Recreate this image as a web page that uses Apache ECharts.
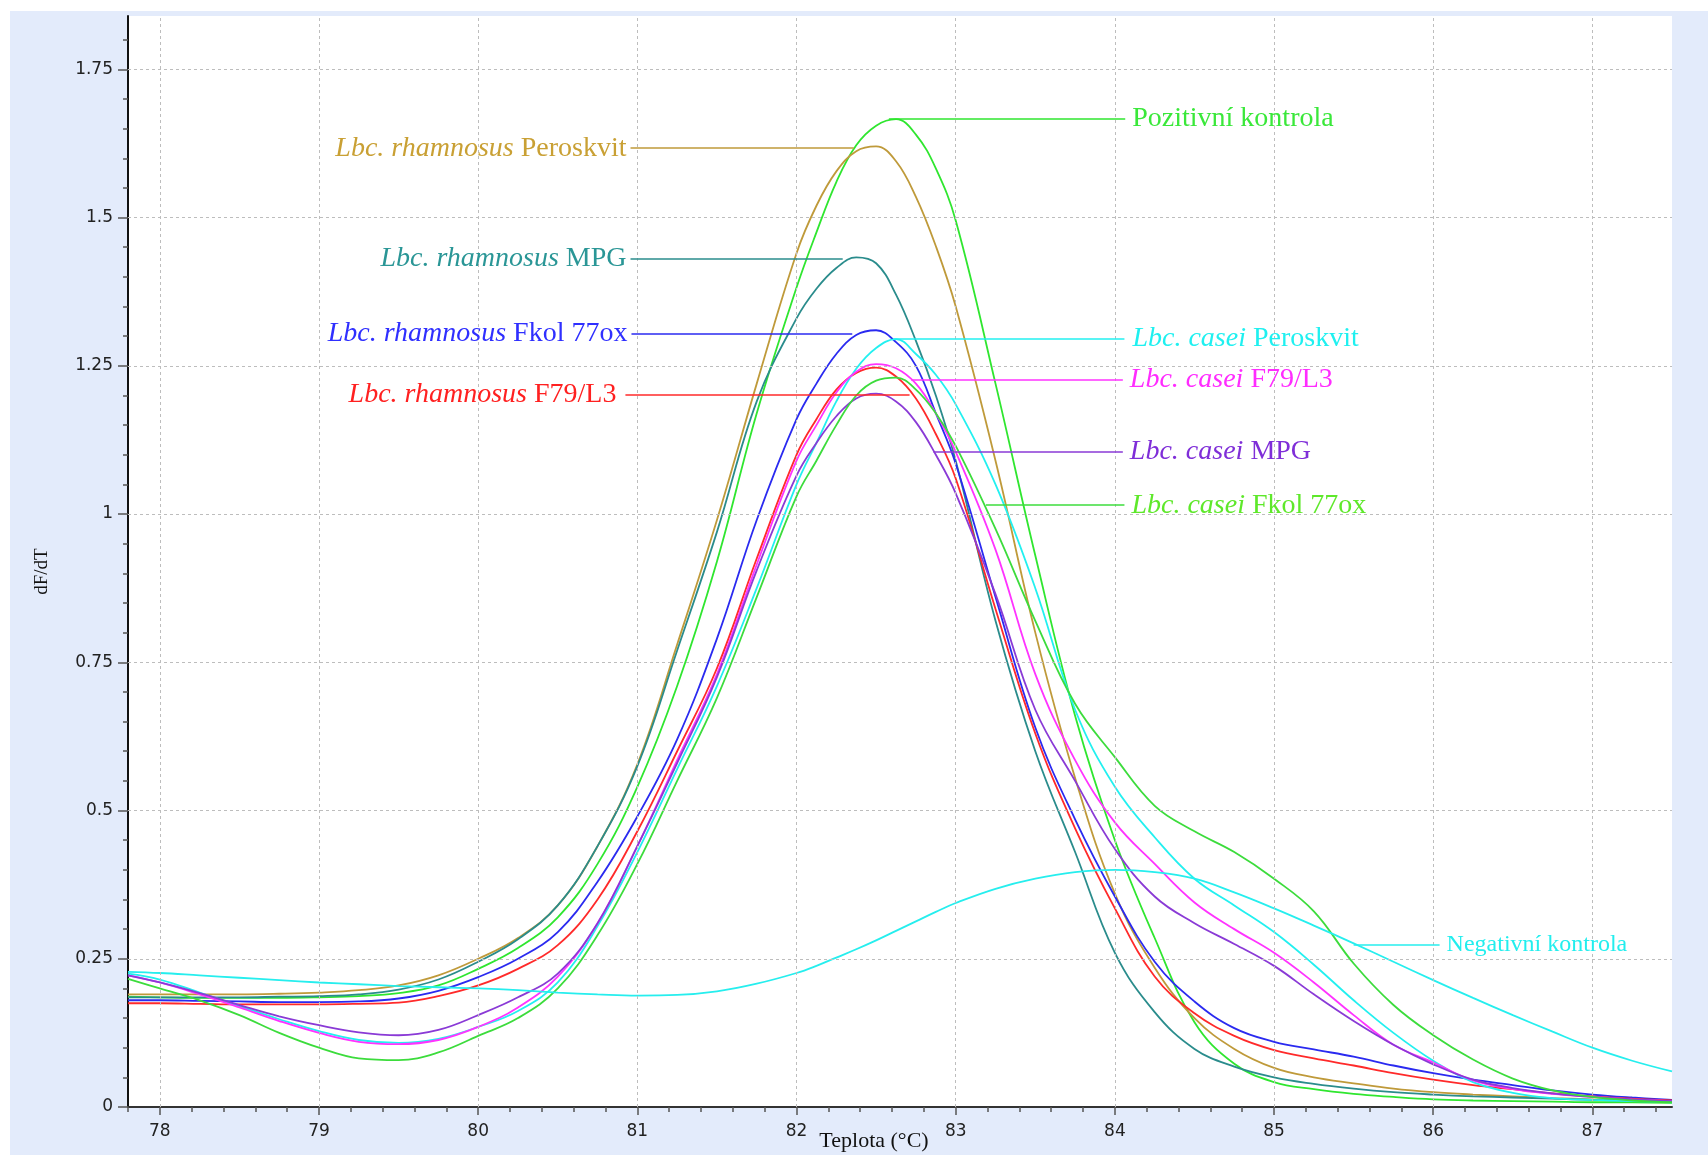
<!DOCTYPE html>
<html><head><meta charset="utf-8">
<script src="https://cdn.jsdelivr.net/npm/echarts@6/dist/echarts.min.js"></script>
<style>
html,body{margin:0;padding:0;background:#ffffff;}
#c{position:absolute;left:10px;top:11px;width:1698px;height:1144px;}
</style>
</head><body><div id="c"></div>
<script>
// ---- data ----
const temperature = [77.8, 78, 78.25, 78.5, 78.75, 79, 79.25, 79.5, 79.75,
  80, 80.25, 80.5, 80.75, 81, 81.25, 81.5, 81.75, 82,
  82.125, 82.25, 82.375, 82.5, 82.625, 82.75, 82.875, 83,
  83.25, 83.5, 83.75, 84, 84.25, 84.5, 84.75, 85, 85.25, 85.5, 85.75, 86, 86.25, 86.5, 86.75, 87, 87.25, 87.5];

const pozitivniKontrola = [0.186, 0.185, 0.184, 0.184, 0.184, 0.185, 0.187, 0.192, 0.205,
  0.233, 0.268, 0.32, 0.41, 0.54, 0.71, 0.92, 1.17, 1.382,
  1.475, 1.56, 1.622, 1.655, 1.666, 1.64, 1.583, 1.495,
  1.22, 0.93, 0.66, 0.45, 0.285, 0.143, 0.073, 0.042, 0.03, 0.022, 0.017, 0.013, 0.011, 0.01, 0.009, 0.008, 0.008, 0.007];
const rhamPeroskvit = [0.19, 0.19, 0.19, 0.19, 0.191, 0.193, 0.197, 0.205, 0.222,
  0.25, 0.285, 0.34, 0.44, 0.578, 0.78, 0.99, 1.22, 1.44,
  1.52, 1.578, 1.612, 1.62, 1.595, 1.535, 1.452, 1.35,
  1.09, 0.8, 0.555, 0.36, 0.235, 0.15, 0.098, 0.066, 0.05, 0.04, 0.031, 0.025, 0.021, 0.018, 0.015, 0.013, 0.011, 0.01];
const rhamMPG = [0.185, 0.185, 0.185, 0.185, 0.186, 0.187, 0.19, 0.198, 0.215,
  0.245, 0.283, 0.34, 0.44, 0.575, 0.77, 0.97, 1.19, 1.33,
  1.38, 1.415, 1.433, 1.423, 1.37, 1.292, 1.2, 1.09,
  0.82, 0.6, 0.43, 0.26, 0.16, 0.098, 0.068, 0.05, 0.039, 0.031, 0.025, 0.021, 0.018, 0.016, 0.014, 0.012, 0.011, 0.01];
const rhamFkol = [0.18, 0.18, 0.179, 0.178, 0.177, 0.177, 0.178, 0.183, 0.196,
  0.219, 0.25, 0.295, 0.38, 0.49, 0.62, 0.79, 0.99, 1.16,
  1.22, 1.27, 1.302, 1.31, 1.29, 1.25, 1.17, 1.085,
  0.86, 0.64, 0.485, 0.355, 0.245, 0.178, 0.133, 0.11, 0.097, 0.085, 0.07, 0.057, 0.046, 0.037, 0.028, 0.021, 0.016, 0.012];
const rhamF79 = [0.175, 0.175, 0.174, 0.173, 0.173, 0.173, 0.174, 0.176, 0.187,
  0.205, 0.233, 0.273, 0.35, 0.465, 0.6, 0.74, 0.925, 1.1,
  1.16, 1.21, 1.238, 1.247, 1.232, 1.195, 1.135, 1.06,
  0.84, 0.63, 0.47, 0.335, 0.22, 0.158, 0.12, 0.096, 0.082, 0.07, 0.057, 0.046, 0.037, 0.03, 0.023, 0.018, 0.014, 0.011];
const caseiPeroskvit = [0.225, 0.215, 0.193, 0.17, 0.148, 0.128, 0.113, 0.108, 0.115,
  0.135, 0.162, 0.21, 0.305, 0.43, 0.57, 0.71, 0.875, 1.05,
  1.12, 1.19, 1.245, 1.28, 1.295, 1.27, 1.235, 1.185,
  1.05, 0.875, 0.67, 0.54, 0.455, 0.385, 0.34, 0.295, 0.24, 0.18, 0.125, 0.078, 0.042, 0.024, 0.015, 0.012, 0.01, 0.008];
const caseiF79 = [0.222, 0.21, 0.19, 0.168, 0.145, 0.125, 0.11, 0.106, 0.113,
  0.135, 0.168, 0.22, 0.31, 0.44, 0.585, 0.73, 0.915, 1.09,
  1.15, 1.205, 1.24, 1.253, 1.246, 1.22, 1.17, 1.105,
  0.94, 0.73, 0.585, 0.48, 0.41, 0.345, 0.3, 0.26, 0.21, 0.155, 0.105, 0.075, 0.045, 0.03, 0.022, 0.017, 0.013, 0.01];
const caseiMPG = [0.222, 0.21, 0.192, 0.172, 0.153, 0.138, 0.126, 0.121, 0.13,
  0.155, 0.185, 0.225, 0.31, 0.44, 0.58, 0.725, 0.905, 1.065,
  1.12, 1.165, 1.195, 1.203, 1.19, 1.155, 1.1, 1.035,
  0.865, 0.67, 0.55, 0.435, 0.355, 0.31, 0.275, 0.238, 0.19, 0.145, 0.105, 0.072, 0.046, 0.032, 0.023, 0.017, 0.013, 0.01];
const caseiFkol = [0.216, 0.2, 0.18, 0.155, 0.125, 0.1, 0.082, 0.079, 0.092,
  0.12, 0.15, 0.2, 0.29, 0.41, 0.55, 0.69, 0.86, 1.03,
  1.09, 1.15, 1.2, 1.225, 1.23, 1.21, 1.17, 1.115,
  0.975, 0.82, 0.68, 0.59, 0.508, 0.465, 0.43, 0.385, 0.33, 0.242, 0.172, 0.121, 0.08, 0.048, 0.028, 0.017, 0.011, 0.008];
const negativniKontrola = [0.228, 0.226, 0.222, 0.218, 0.214, 0.21, 0.207, 0.204, 0.202,
  0.2, 0.197, 0.193, 0.19, 0.188, 0.189, 0.195, 0.208, 0.226,
  0.238, 0.252, 0.266, 0.281, 0.297, 0.313, 0.329, 0.344,
  0.368, 0.385, 0.396, 0.4, 0.396, 0.385, 0.362, 0.335, 0.306, 0.276, 0.245, 0.214, 0.184, 0.155, 0.127, 0.1, 0.078, 0.06];

// tick values
const xMajorTicks = [78, 79, 80, 81, 82, 83, 84, 85, 86, 87];
const yMajorTicks = [0, 0.25, 0.5, 0.75, 1, 1.25, 1.5, 1.75];
const xMinorTicks = []; for (let k = 0; k <= 48; k++) xMinorTicks.push(Math.round((77.8 + k * 0.2) * 10) / 10);
const yMinorTicks = []; for (let k = 0; k <= 36; k++) yMinorTicks.push(Math.round(k * 5) / 100);

// label texts: [italic part, upright part]
const labelTexts = [
  ['', 'Pozitivní kontrola'],
  ['Lbc. rhamnosus', 'Peroskvit'],
  ['Lbc. rhamnosus', 'MPG'],
  ['Lbc. rhamnosus', 'Fkol 77ox'],
  ['Lbc. rhamnosus', 'F79/L3'],
  ['Lbc. casei', 'Peroskvit'],
  ['Lbc. casei', 'F79/L3'],
  ['Lbc. casei', 'MPG'],
  ['Lbc. casei', 'Fkol 77ox'],
  ['', 'Negativní kontrola']
];
// leader lines: from T, to T, level dF/dT, side of the text
const leaderFrom = [82.58, 80.957, 80.957, 80.963, 80.925, 82.61, 82.72, 82.86, 83.19, 85.5];
const leaderTo   = [84.065, 82.36, 82.29, 82.35, 82.71, 84.06, 84.05, 84.05, 84.06, 86.04];
const leaderLevel = [1.667, 1.617, 1.431, 1.304, 1.202, 1.296, 1.227, 1.105, 1.015, 0.274];
const leaderSide = ['right', 'left', 'left', 'left', 'left', 'right', 'right', 'right', 'right', 'right'];

const seriesValues = [pozitivniKontrola, rhamPeroskvit, rhamMPG, rhamFkol, rhamF79, caseiPeroskvit, caseiF79, caseiMPG, caseiFkol, negativniKontrola];
const lineColors = ['#2fe62f', '#bf9a3a', '#2a8c8c', '#2a2af0', '#ff2a2a', '#22f0f0', '#ff33ff', '#8a3ad6', '#3cdc3c', '#26eeee'];
const textColors = ['#3ae83a', '#c9a034', '#2a9696', '#2f2fff', '#ff2020', '#1ff0f0', '#ff2cff', '#7f2ed8', '#5ee82a', '#22eeee'];
const labelSizes = [28, 28, 28, 28, 28, 28, 28, 28, 28, 24];
const labelDistances = [7, 4, 4, 4, 9, 8, 7, 7, 7, 7];

// ---- chart ----
const serif = '"Liberation Serif","Times New Roman",serif';
const sans = '"DejaVu Sans",Verdana,sans-serif';
const chart = echarts.init(document.getElementById('c'), null, {renderer: 'canvas', width: 1698, height: 1144});

const series = seriesValues.map((vals, i) => {
  const [it, pl] = labelTexts[i];
  const txt = it ? '{i|' + it + '} {n|' + pl + '}' : '{n|' + pl + '}';
  const fs = labelSizes[i];
  return {
    type: 'line',
    name: (it ? it + ' ' : '') + pl,
    data: temperature.map((t, k) => [t, vals[k]]),
    smooth: 0.4,
    showSymbol: false,
    symbol: 'none',
    silent: true,
    z: 3,
    lineStyle: {color: lineColors[i], width: 1.8},
    itemStyle: {color: lineColors[i]},
    markLine: {
      silent: true,
      animation: false,
      symbol: ['none', 'none'],
      lineStyle: {type: 'solid', color: lineColors[i], width: 1.5},
      emphasis: {disabled: true},
      label: {
        show: true,
        position: leaderSide[i] === 'left' ? 'start' : 'end',
        distance: labelDistances[i],
        formatter: txt,
        color: textColors[i],
        fontFamily: serif,
        fontSize: fs,
        rich: {
          i: {fontStyle: 'italic', color: textColors[i], fontFamily: serif, fontSize: fs},
          n: {fontStyle: 'normal', color: textColors[i], fontFamily: serif, fontSize: fs}
        }
      },
      data: [[{coord: [leaderFrom[i], leaderLevel[i]]}, {coord: [leaderTo[i], leaderLevel[i]]}]]
    }
  };
});

// dashed grid lines at major ticks
series.unshift({
  type: 'line',
  name: 'grid',
  data: [],
  z: 1,
  silent: true,
  markLine: {
    silent: true,
    animation: false,
    symbol: ['none', 'none'],
    label: {show: false},
    emphasis: {disabled: true},
    lineStyle: {type: [3, 3], color: '#bdbdbd', width: 1},
    data: xMajorTicks.map(v => ({xAxis: v})).concat(yMajorTicks.filter(v => v > 0).map(v => ({yAxis: v})))
  }
});

const option = {
  backgroundColor: '#e3ebfb',
  animation: false,
  grid: {left: 118, right: 36, top: 5, bottom: 48, show: true, backgroundColor: '#ffffff', borderWidth: 0,
         containLabel: false, outerBoundsMode: 'none'},
  xAxis: [
    {
      type: 'value', min: 77.8, max: 87.5, position: 'bottom',
      axisLine: {show: true, onZero: false, lineStyle: {color: '#333333', width: 2}},
      axisTick: {show: true, customValues: xMinorTicks, length: 5, lineStyle: {color: '#555555', width: 1.5}},
      axisLabel: {show: true, customValues: xMajorTicks, margin: 16, fontFamily: sans, fontSize: 17, color: '#222222'},
      splitLine: {show: false},
      name: 'Teplota (°C)', nameLocation: 'middle', nameGap: 23, nameMoveOverlap: false,
      nameTextStyle: {fontFamily: serif, fontSize: 22, color: '#111111', padding: [0, 52, 0, 0]}
    },
    {
      type: 'value', min: 77.8, max: 87.5, position: 'bottom', offset: 0,
      axisLine: {show: false},
      axisTick: {show: true, customValues: xMajorTicks, length: 8, lineStyle: {color: '#555555', width: 1.5}},
      axisLabel: {show: false},
      splitLine: {show: false}
    }
  ],
  yAxis: [
    {
      type: 'value', min: 0, max: 1.84, position: 'left',
      axisLine: {show: true, onZero: false, lineStyle: {color: '#111111', width: 2}},
      axisTick: {show: true, customValues: yMinorTicks, length: 5, lineStyle: {color: '#555555', width: 1.5}},
      axisLabel: {show: true, customValues: yMajorTicks, margin: 15, fontFamily: sans, fontSize: 17, color: '#222222'},
      splitLine: {show: false},
      name: 'dF/dT', nameLocation: 'middle', nameGap: 76, nameRotate: 90, nameMoveOverlap: false,
      nameTextStyle: {fontFamily: serif, fontSize: 19, color: '#111111', padding: [0, 20, 0, 0]}
    },
    {
      type: 'value', min: 0, max: 1.84, position: 'left', offset: 0,
      axisLine: {show: false},
      axisTick: {show: true, customValues: yMajorTicks, length: 10, lineStyle: {color: '#555555', width: 1.5}},
      axisLabel: {show: false},
      splitLine: {show: false}
    }
  ],
  series: series
};
chart.setOption(option);
</script>
</body></html>
